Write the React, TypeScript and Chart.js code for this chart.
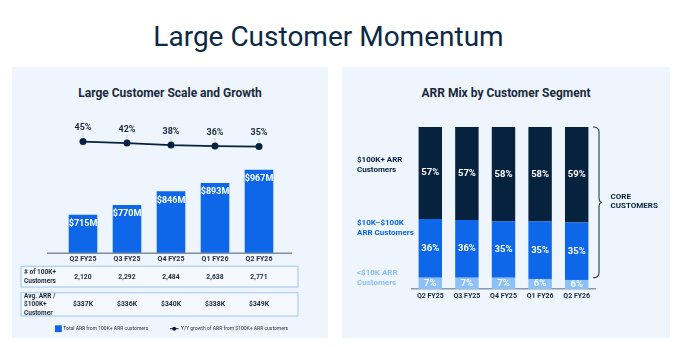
import React, { useEffect, useRef } from "react";
import { Chart, registerables } from "chart.js";
Chart.register(...registerables);

// ---- data ----
const quarters = ["Q2 FY25", "Q3 FY25", "Q4 FY25", "Q1 FY26", "Q2 FY26"];
const largeArrM = [715, 770, 846, 893, 967];
const yoyGrowth = [45, 42, 38, 36, 35];
const largeCustomerCount = ["2,120", "2,292", "2,484", "2,638", "2,771"];
const avgArrPerCustomer = ["$337K", "$336K", "$340K", "$338K", "$349K"];
const shareUnder10K = [7, 7, 7, 6.2, 5.6];
const share10Kto100K = [36.2, 35.6, 34.6, 35.4, 35.4];
const share100KPlus = [56.8, 57.4, 58.4, 58.4, 59];

// ---- style ----
const FONT = "Roboto, 'Open Sans', sans-serif";
const NAVY = "#06223f";
const BLUE = "#0d67e8";
const LIGHT = "#8cc0f6";
const PANEL = "#eef5fd";
const TEXT = "#1b2a3a";

Chart.defaults.font.family = FONT;

function text(ctx: CanvasRenderingContext2D, s: string, x: number, y: number, size: number, color: string, weight = "bold", align: CanvasTextAlign = "center") {
  ctx.save();
  ctx.font = `${weight} ${size}px ${FONT}`;
  ctx.fillStyle = color;
  ctx.textAlign = align;
  ctx.textBaseline = "middle";
  ctx.fillText(s, x, y);
  ctx.restore();
}

const leftDecor = {
  id: "leftDecor",
  afterDatasetsDraw(chart: any) {
    const ctx = chart.ctx as CanvasRenderingContext2D;
    const ca = chart.chartArea;
    // baseline
    ctx.save();
    ctx.strokeStyle = "#7f8ea1";
    ctx.lineWidth = 1.5;
    ctx.beginPath();
    ctx.moveTo(ca.left - 14, ca.bottom);
    ctx.lineTo(ca.right + 11, ca.bottom);
    ctx.stroke();
    ctx.restore();
    // bar labels
    const barMeta = chart.getDatasetMeta(1);
    barMeta.data.forEach((el: any, i: number) => {
      text(ctx, `$${largeArrM[i]}M`, el.x, el.y + 9, 9, "#ffffff");
    });
    // line labels
    const lineMeta = chart.getDatasetMeta(0);
    lineMeta.data.forEach((el: any, i: number) => {
      ctx.save();
      ctx.strokeStyle = "rgba(120,130,145,0.3)";
      ctx.lineWidth = 1;
      ctx.beginPath();
      ctx.moveTo(el.x, el.y - 8.5);
      ctx.lineTo(el.x, el.y - 3);
      ctx.stroke();
      ctx.restore();
      text(ctx, `${yoyGrowth[i]}%`, el.x, el.y - 13.5, 9, TEXT);
    });
    // table
    const b = ca.bottom;
    const rows = [
      { top: b + 13, bottom: b + 33.7, label: ["# of 100K+", "Customers"], ly: [b + 18.7, b + 27.7], vy: b + 24.2, vals: largeCustomerCount },
      { top: b + 39.4, bottom: b + 62.7, label: ["Avg. ARR /", "$100K+", "Customer"], ly: [b + 43, b + 51.4, b + 59.7], vy: b + 51.4, vals: avgArrPerCustomer },
    ];
    rows.forEach((r) => {
      ctx.save();
      ctx.fillStyle = "#f5f9ff";
      ctx.strokeStyle = "#a9cff3";
      ctx.lineWidth = 1.2;
      ctx.fillRect(9, r.top, 277, r.bottom - r.top);
      ctx.strokeRect(9, r.top, 277, r.bottom - r.top);
      ctx.restore();
      r.label.forEach((l, k) => text(ctx, l, 12, r.ly[k], 6.5, TEXT, "bold", "left"));
      barMeta.data.forEach((el: any, i: number) => text(ctx, r.vals[i], el.x, r.vy, 6.8, TEXT, "bold"));
    });
    // legend
    const ly = b + 75.4;
    ctx.save();
    ctx.fillStyle = BLUE;
    ctx.fillRect(43, ly - 3.4, 6.8, 6.8);
    ctx.strokeStyle = NAVY;
    ctx.lineWidth = 1;
    ctx.beginPath();
    ctx.moveTo(158, ly);
    ctx.lineTo(166.5, ly);
    ctx.stroke();
    ctx.fillStyle = NAVY;
    ctx.beginPath();
    ctx.arc(162.2, ly, 2, 0, Math.PI * 2);
    ctx.fill();
    ctx.restore();
    text(ctx, "Total ARR from 100K+ ARR customers", 51.3, ly, 5, "#2b3440", "normal", "left");
    text(ctx, "Y/Y growth of ARR from $100K+ ARR customers", 169, ly, 5, "#2b3440", "normal", "left");
  },
};

const rightDecor = {
  id: "rightDecor",
  afterDatasetsDraw(chart: any) {
    const ctx = chart.ctx as CanvasRenderingContext2D;
    const ca = chart.chartArea;
    const sets = [shareUnder10K, share10Kto100K, share100KPlus];
    sets.forEach((vals, d) => {
      const meta = chart.getDatasetMeta(d);
      meta.data.forEach((el: any, i: number) => {
        text(ctx, `${Math.round(vals[i])}%`, el.x, (el.y + el.base) / 2, 9.5, d === 0 ? "rgba(255,255,255,0.9)" : "#ffffff");
      });
    });
    // segment names
    text(ctx, "$100K+ ARR", 15, 93, 8, NAVY, "bold", "left");
    text(ctx, "Customers", 15, 103, 8, NAVY, "bold", "left");
    text(ctx, "$10K–$100K", 15, 156, 8, BLUE, "bold", "left");
    text(ctx, "ARR Customers", 15, 166, 8, BLUE, "bold", "left");
    text(ctx, "<$10K ARR", 15, 206, 8, LIGHT, "bold", "left");
    text(ctx, "Customers", 15, 216, 8, LIGHT, "bold", "left");
    // brace
    const y = chart.scales.y;
    const top = y.getPixelForValue(100);
    const bot = y.getPixelForValue(shareUnder10K[0]);
    const mid = (top + bot) / 2;
    const x0 = ca.right - 2, x1 = ca.right + 4, x2 = ca.right + 7;
    const r = 5;
    ctx.save();
    ctx.strokeStyle = "#2a3b4c";
    ctx.lineWidth = 1.1;
    ctx.beginPath();
    ctx.moveTo(x0, top);
    ctx.quadraticCurveTo(x1, top, x1, top + r);
    ctx.lineTo(x1, mid - r);
    ctx.quadraticCurveTo(x1, mid, x2, mid);
    ctx.quadraticCurveTo(x1, mid, x1, mid + r);
    ctx.lineTo(x1, bot - r);
    ctx.quadraticCurveTo(x1, bot, x0, bot);
    ctx.stroke();
    ctx.restore();
    text(ctx, "CORE", ca.right + 15.5, mid - 5.5, 8, NAVY, "bold", "left");
    text(ctx, "CUSTOMERS", ca.right + 15.5, mid + 4, 8, NAVY, "bold", "left");
  },
};

export default function App() {
  const leftRef = useRef<HTMLCanvasElement>(null);
  const rightRef = useRef<HTMLCanvasElement>(null);

  useEffect(() => {
    const left = new Chart(leftRef.current!, {
      type: "bar",
      data: {
        labels: quarters,
        datasets: [
          {
            type: "line",
            data: yoyGrowth,
            yAxisID: "y1",
            borderColor: NAVY,
            backgroundColor: NAVY,
            borderWidth: 1.8,
            pointRadius: 3.5,
            pointBackgroundColor: NAVY,
            pointBorderWidth: 0,
            order: 0,
          } as any,
          {
            type: "bar",
            data: largeArrM,
            yAxisID: "y",
            backgroundColor: BLUE,
            categoryPercentage: 1,
            barPercentage: 0.65,
            order: 1,
          },
        ],
      },
      options: {
        responsive: false,
        animation: false,
        devicePixelRatio: 1,
        layout: { padding: { left: 49, right: 47, top: 43, bottom: 72.3 } },
        plugins: { legend: { display: false }, tooltip: { enabled: false } },
        scales: {
          x: {
            grid: { display: false, drawTicks: false },
            border: { display: false },
            ticks: { font: { size: 7, weight: "bold" }, color: TEXT, padding: 2, maxRotation: 0, minRotation: 0, autoSkip: false },
          },
          y: { display: false, min: 500, max: 1300 },
          y1: { display: false, min: -178, max: 108 },
        },
      },
      plugins: [leftDecor],
    });

    const right = new Chart(rightRef.current!, {
      type: "bar",
      data: {
        labels: quarters,
        datasets: [
          { data: shareUnder10K, backgroundColor: LIGHT, categoryPercentage: 1, barPercentage: 0.64 },
          { data: share10Kto100K, backgroundColor: BLUE, categoryPercentage: 1, barPercentage: 0.64 },
          { data: share100KPlus, backgroundColor: NAVY, categoryPercentage: 1, barPercentage: 0.64 },
        ],
      },
      options: {
        responsive: false,
        animation: false,
        devicePixelRatio: 1,
        layout: { padding: { left: 70, right: 75, top: 60, bottom: 33.6 } },
        plugins: { legend: { display: false }, tooltip: { enabled: false } },
        scales: {
          x: {
            stacked: true,
            grid: { display: false, drawTicks: false },
            border: { display: true, color: "#8a99ab", width: 1.5 },
            ticks: { font: { size: 7, weight: "bold" }, color: TEXT, padding: 3.5, maxRotation: 0, minRotation: 0, autoSkip: false },
          },
          y: { stacked: true, display: false, min: 0, max: 100 },
        },
      },
      plugins: [rightDecor],
    });

    return () => {
      left.destroy();
      right.destroy();
    };
  }, []);

  const panelTitle: React.CSSProperties = {
    position: "absolute",
    top: 18,
    left: 0,
    width: "100%",
    textAlign: "center",
    font: `bold 12px ${FONT}`,
    lineHeight: "16px",
    color: TEXT,
  };

  return (
    <div style={{ position: "absolute", left: 0, top: 0, width: 680, height: 347, background: "#ffffff", fontFamily: FONT }}>
      <div style={{ position: "absolute", left: 0, top: 21.4, width: 657, textAlign: "center", font: `400 28px ${FONT}`, lineHeight: "32px", color: "#0c2a47", whiteSpace: "nowrap" }}>
        Large Customer Momentum
      </div>
      <div style={{ position: "absolute", left: 12, top: 67, width: 316, height: 271, background: PANEL }}>
        <div style={panelTitle}>Large Customer Scale and Growth</div>
        <canvas ref={leftRef} width={316} height={271} style={{ position: "absolute", left: 0, top: 0 }} />
      </div>
      <div style={{ position: "absolute", left: 342, top: 67, width: 328, height: 271, background: PANEL }}>
        <div style={panelTitle}>ARR Mix by Customer Segment</div>
        <canvas ref={rightRef} width={328} height={271} style={{ position: "absolute", left: 0, top: 0 }} />
      </div>
    </div>
  );
}
